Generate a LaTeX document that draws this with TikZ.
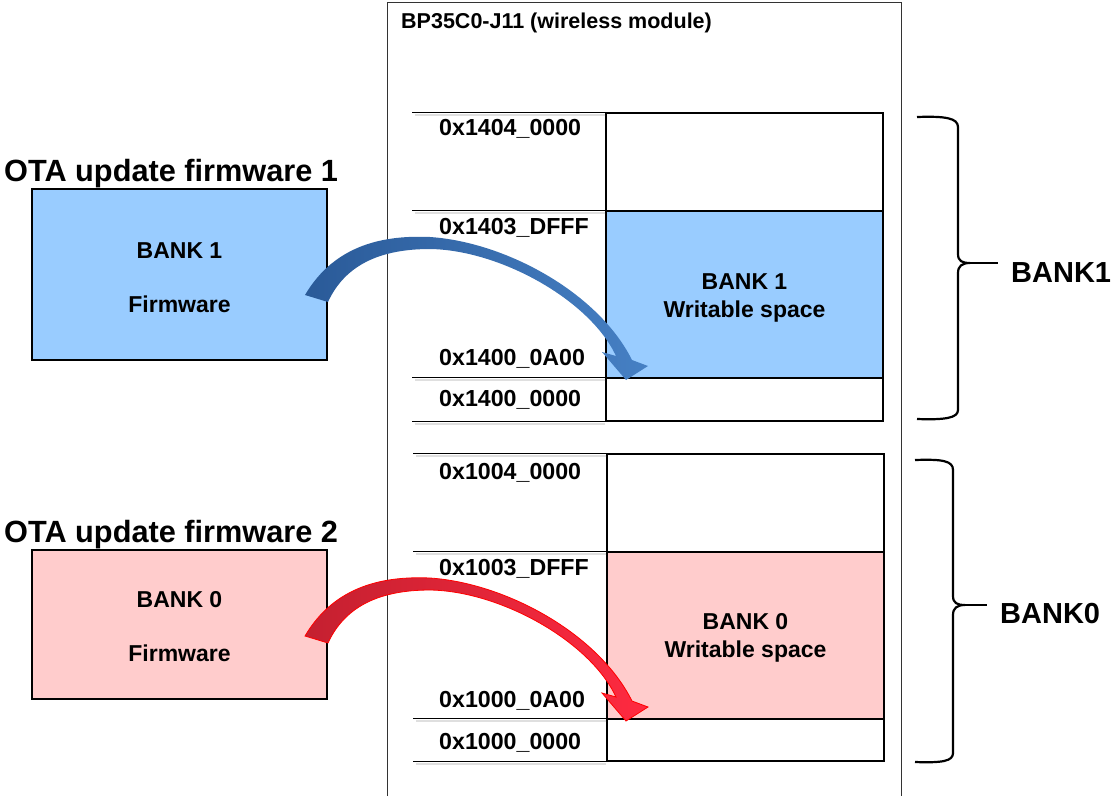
\documentclass[tikz,border=0pt]{standalone}
\usepackage{fontspec}
\setmainfont{Liberation Sans}
\usetikzlibrary{positioning}

\definecolor{bankblue}{HTML}{99CCFF}
\definecolor{bankpink}{HTML}{FFCCCC}
\definecolor{arrowdark}{HTML}{2A5A98}
\definecolor{arrowlight}{HTML}{4680C4}
\definecolor{redtail}{HTML}{C42030}
\definecolor{redmid}{HTML}{F2B2E6}
\definecolor{redhead}{HTML}{FF2A40}

% curved update arrow, #1 = vertical offset, #2 = looks
\newcommand{\otaarrow}[2]{%
  \path[#2, shift={(0,#1)}] (305,295) .. controls (335,244) and (385,235) .. (430,237)
    .. controls (505,242) and (598,292) .. (632,360) -- (648,366) -- (626,380)
    -- (602,352) -- (616,356) .. controls (590,300) and (500,250) .. (430,249)
    .. controls (380,249) and (345,265) .. (328,302) -- cycle;}

\begin{document}
\begin{tikzpicture}[x=1pt,y=-1pt,
    fwbox/.style={draw, line width=1.3pt, minimum width=295pt},
    cell/.style={draw, line width=1.2pt, minimum width=277pt, inner sep=0pt},
    celltext/.style={align=center, inner sep=0pt, font=\fontsize{23}{28}\selectfont\bfseries},
    addr/.style={anchor=west, inner sep=0pt, font=\fontsize{23.2}{28}\selectfont\bfseries},
    title/.style={anchor=west, inner sep=0pt, font=\fontsize{30.7}{36}\selectfont\bfseries},
    banklbl/.style={anchor=west, inner sep=0pt, font=\fontsize{29}{34}\selectfont\bfseries},
    rowline/.style={line width=1.2pt},
    rowshadow/.style={line width=2.5pt, gray!25},
    bracket/.style={line width=2.2pt, line join=round}]
    \useasboundingbox (0,0) rectangle (1113,796);

    % Module outline
    \draw[line width=1pt, black!80] (387,796) -- (387,2) -- (901,2) -- (901,796);
    \node[anchor=west, inner sep=0pt, font=\fontsize{21.5}{25}\selectfont\bfseries] (module) at (401,23)
        {BP35C0-J11 (wireless module)};

    % Firmware images
    \node[title] (ota1) at (4,174) {OTA update firmware 1};
    \node[fwbox, fill=bankblue, minimum height=171pt] (fw1) at (179.5,274.5) {};
    \node[celltext] (fw1txt) at ([yshift=-3pt]fw1.center) {BANK 1\\[26pt]Firmware};
    \node[title] (ota2) at (4,535) {OTA update firmware 2};
    \node[fwbox, fill=bankpink, minimum height=149pt] (fw0) at (179.5,624.5) {};
    \node[celltext] (fw0txt) at ([yshift=-2pt]fw0.center) {BANK 0\\[26pt]Firmware};

    % Bank 1 memory
    \node[cell, minimum height=98pt] (free1) at (744.5,162) {};
    \node[cell, minimum height=167pt, fill=bankblue] (wr1) at (744.5,294.5) {};
    \node[celltext] (wr1txt) at ([yshift=-3pt]wr1.center) {BANK 1\\Writable space};
    \node[cell, minimum height=43pt] (low1) at (744.5,399.5) {};
    \foreach \a in {free1.north west, wr1.north west, low1.north west, low1.south west} {
        \draw[rowshadow] ([yshift=-2.5pt]\a) -- ++(-190,0);
        \draw[rowline] (\a) -- ++(-193,0);
    }
    \foreach \y/\t in {129/0x1404\_0000, 228/0x1403\_DFFF, 359/0x1400\_0A00, 400/0x1400\_0000}
        \node[addr] (addr\y) at (439,\y) {\t};

    % Bank 0 memory
    \node[cell, minimum height=98pt] (free0) at (745.5,503) {};
    \node[cell, minimum height=167pt, fill=bankpink] (wr0) at (745.5,635.5) {};
    \node[celltext] (wr0txt) at ([yshift=-2pt]wr0.center) {BANK 0\\Writable space};
    \node[cell, minimum height=42pt] (low0) at (745.5,740) {};
    \foreach \a in {free0.north west, wr0.north west, low0.north west, low0.south west} {
        \draw[rowshadow] ([yshift=-2.5pt]\a) -- ++(-190,0);
        \draw[rowline] (\a) -- ++(-193,0);
    }
    \foreach \y/\t in {473/0x1004\_0000, 569/0x1003\_DFFF, 701/0x1000\_0A00, 743/0x1000\_0000}
        \node[addr] (addr\y) at (439,\y) {\t};

    % Arrows
    \otaarrow{0}{left color=arrowdark, right color=arrowlight}
    \otaarrow{341}{left color=redtail, middle color=redmid, right color=redhead, draw=red, line width=0.8pt}

    % Braces
    \draw[bracket] (917,117) .. controls (945,116) and (958,118) .. (958,127) -- (958,254)
        .. controls (958,261) and (962,263) .. (970,263)
        .. controls (962,263) and (958,266) .. (958,273) -- (958,410)
        .. controls (958,418) and (945,420) .. (917,419);
    \draw[bracket] (970,263) -- (998,263);
    \node[banklbl] (bank1) at (1011,273) {BANK1};
    \draw[bracket] (915,460) .. controls (943,459) and (953,461) .. (953,470) -- (953,596)
        .. controls (953,603) and (957,605) .. (965,605)
        .. controls (957,605) and (953,608) .. (953,615) -- (953,753)
        .. controls (953,761) and (943,763) .. (915,762);
    \draw[bracket] (965,605) -- (987,605);
    \node[banklbl] (bank0) at (1000,614) {BANK0};
\end{tikzpicture}
\end{document}
